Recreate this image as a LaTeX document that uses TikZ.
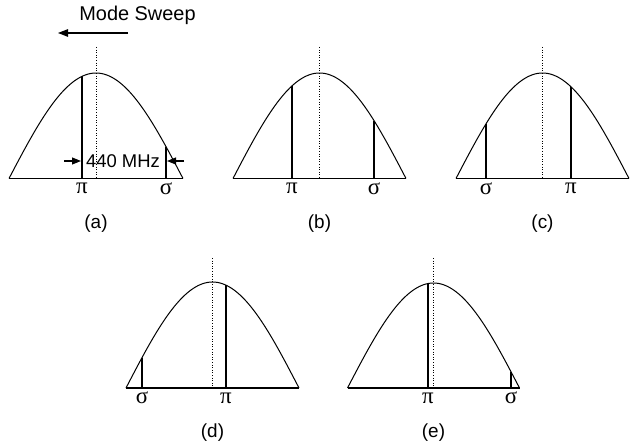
\documentclass[tikz,border=0pt]{standalone}
\usepackage{fontspec}
\setmainfont{Liberation Sans}
\newfontfamily\grk{Liberation Serif}
\usetikzlibrary{arrows.meta}
\tikzset{
  bellcurve/.style={line width=1bp},
  baseln/.style={line width=1.4bp},
  peakln/.style={line width=2.4bp},
  centerln/.style={line width=0.8bp, dash pattern=on 1bp off 1.6bp},
  glabel/.style={font=\grk\fontsize{23}{24}\selectfont, inner sep=0},
  plabel/.style={font=\fontsize{19}{22}\selectfont, inner sep=0},
  sweeparrow/.style={line width=1.2bp, -{Triangle[length=10bp,width=7.5bp]}},
  mhzarrow/.style={line width=1.1bp, -{Triangle[length=9bp,width=7bp]}}
}
% #1 centre x, #2 baseline y, #3 half width, #4 height, #5 dotted top,
% #6 pi x, #7 sigma x, #8 panel label, #9 name
\newcommand{\bellpanel}[9]{%
  \draw[bellcurve] plot[domain=-1:1, samples=80] ({#1+#3*\x}, {#2-#4*cos(90*\x)});
  \draw[baseln] (#1-#3,#2) -- (#1+#3,#2);
  \draw[centerln] (#1,#5) -- (#1,#2);
  \coordinate (#9pib) at (#6,#2);
  \coordinate (#9pit) at (#6,{#2-#4*cos(90*(#6-#1)/#3)});
  \coordinate (#9sgb) at (#7,#2);
  \coordinate (#9sgt) at (#7,{#2-#4*cos(90*(#7-#1)/#3)});
  \draw[peakln] (#9pib) -- (#9pit);
  \draw[peakln] (#9sgb) -- (#9sgt);
  \node[glabel] (#9pil) at (#6,#2+10) {π};
  \node[glabel] (#9sgl) at (#7,#2+10) {σ};
  \node[plabel] (#9lab) at (#1,#2+45) {#8};
}
\begin{document}
\begin{tikzpicture}[x=1bp, y=-1bp]
\path[use as bounding box] (0,0) rectangle (630,447);
\bellpanel{96}{178.5}{87}{105.5}{47}{82}{166}{(a)}{a}
\bellpanel{319.5}{178.5}{86.5}{105.5}{47}{292}{374}{(b)}{b}
\bellpanel{542.5}{178.5}{86.5}{105.5}{47}{571}{486}{(c)}{c}
\bellpanel{212.5}{388}{86.5}{106}{258}{226}{142}{(d)}{d}
\bellpanel{433.5}{388}{86}{105}{258}{428}{511}{(e)}{e}
% Mode sweep
\node[font=\fontsize{20}{22}\selectfont, inner sep=0] (ms) at (137.5,15) {Mode Sweep};
\coordinate (msA) at (128,33);
\coordinate (msB) at (58,33);
\draw[sweeparrow] (msA) -- (msB);
% 440 MHz
\node[font=\fontsize{18.5}{20}\selectfont, inner sep=0] (mhz) at (123,161) {440 MHz};
\coordinate (mlA) at (64,161);
\coordinate (mlB) at (81,161);
\coordinate (mrA) at (184,161);
\coordinate (mrB) at (167,161);
\draw[mhzarrow] (mlA) -- (mlB);
\draw[mhzarrow] (mrA) -- (mrB);
\end{tikzpicture}
\end{document}
